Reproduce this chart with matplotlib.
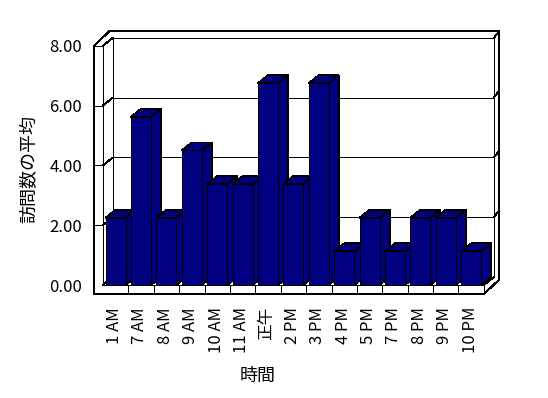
import matplotlib
matplotlib.use("Agg")
import matplotlib.pyplot as plt
from matplotlib.patches import Polygon

plt.rcParams['font.family'] = ['Noto Sans CJK JP', 'DejaVu Sans']

# ---- data ----
categories = ["1 AM", "7 AM", "8 AM", "9 AM", "10 AM", "11 AM", "正午", "2 PM",
              "3 PM", "4 PM", "5 PM", "7 PM", "8 PM", "9 PM", "10 PM"]
values = [2.25, 5.625, 2.25, 4.5, 3.375, 3.375, 6.75, 3.375,
          6.75, 1.125, 2.25, 1.125, 2.25, 2.25, 1.125]
yticks = [0, 2, 4, 6, 8]
ytick_labels = ["0.00", "2.00", "4.00", "6.00", "8.00"]
ylabel = "訪問数の平均"
xlabel = "時間"

# ---- geometry (pixel based layout) ----
W, H = 548, 398
CAT = 25.4      # px per category
VAL = 29.9      # px per value unit
X0, Y0 = 102.9, 285.0   # px of (first category left, value 0) on front plane
N = len(categories)
YMAX = 8

DX, DY = 10 / CAT, 8 / VAL          # depth offset
WT = 8.6 / CAT                      # left wall thickness
FT = 9.3 / VAL                      # floor thickness
BTX, BTY = 5.5 / CAT, 7.0 / VAL     # back wall thickness
BAR_W = 20 / CAT
GAP = (1 - BAR_W) / 2

NAVY = "#000080"
LW = 0.6

fig = plt.figure(figsize=(W / 100, H / 100), dpi=100)
ax = fig.add_axes([0, 0, 1, 1])
ax.set_axis_off()
ax.set_xlim(-X0 / CAT, (W - X0) / CAT)
ax.set_ylim(-(H - Y0) / VAL, Y0 / VAL)


def line(xs, ys):
    ax.plot(xs, ys, color="black", lw=LW, solid_capstyle="butt", antialiased=False, zorder=2)


# outer outline of the walls/floor box
ox, oy = DX + BTX, DY + BTY
outer = [(-WT, -FT), (N, -FT), (N + ox, -FT + oy), (N + ox, YMAX + oy),
         (-WT + ox, YMAX + oy), (-WT, YMAX)]
ax.add_patch(Polygon(outer, closed=True, facecolor="white", edgecolor="black",
                     lw=LW, antialiased=False, zorder=1))

# left wall
line([0, 0], [0, YMAX])
line([-WT, 0], [YMAX, YMAX])
line([0, DX], [YMAX, YMAX + DY])
# back wall face
line([DX, N + DX, N + DX, DX, DX], [DY, DY, YMAX + DY, YMAX + DY, DY])
line([N + DX, N + ox], [YMAX + DY, YMAX + oy])
# floor
line([0, N], [0, 0])
line([0, DX], [0, DY])
line([N, N + DX], [0, DY])
line([N, N], [0, -FT])
for i in range(1, N):
    line([i, i], [-FT, 0])
# gridlines
for v in yticks[1:-1]:
    line([-WT, 0], [v, v])
    line([0, DX], [v, v + DY])
    line([DX, N + DX], [v + DY, v + DY])
    line([N + DX, N + ox], [v + DY, v + oy])

# bars (left to right so later bars hide earlier side faces)
for i, v in enumerate(values):
    x0 = i + GAP
    x1 = i + 1 - GAP
    front = [(x0, 0), (x1, 0), (x1, v), (x0, v)]
    top = [(x0, v), (x1, v), (x1 + DX, v + DY), (x0 + DX, v + DY)]
    side = [(x1, 0), (x1 + DX, DY), (x1 + DX, v + DY), (x1, v)]
    for poly in (side, top, front):
        ax.add_patch(Polygon(poly, closed=True, facecolor=NAVY, edgecolor="black",
                             lw=LW, antialiased=False, zorder=3 + i))

# tick labels
FS = 12
for v, lab in zip(yticks, ytick_labels):
    ax.text((82 - X0) / CAT, v, lab, ha="right", va="center_baseline", fontsize=FS)
for i, lab in enumerate(categories):
    ax.text(i + 0.5 - 1 / CAT, (Y0 - 307) / VAL, lab, rotation=90, ha="center", va="top",
            fontsize=FS)

ax.text((29 - X0) / CAT, (Y0 - 169) / VAL, ylabel, rotation=90, ha="center", va="center",
        fontsize=13)
ax.text((258 - X0) / CAT, (Y0 - 375.5) / VAL, xlabel, ha="center", va="center", fontsize=13)

fig.savefig("out.png", dpi=100, facecolor="white")
